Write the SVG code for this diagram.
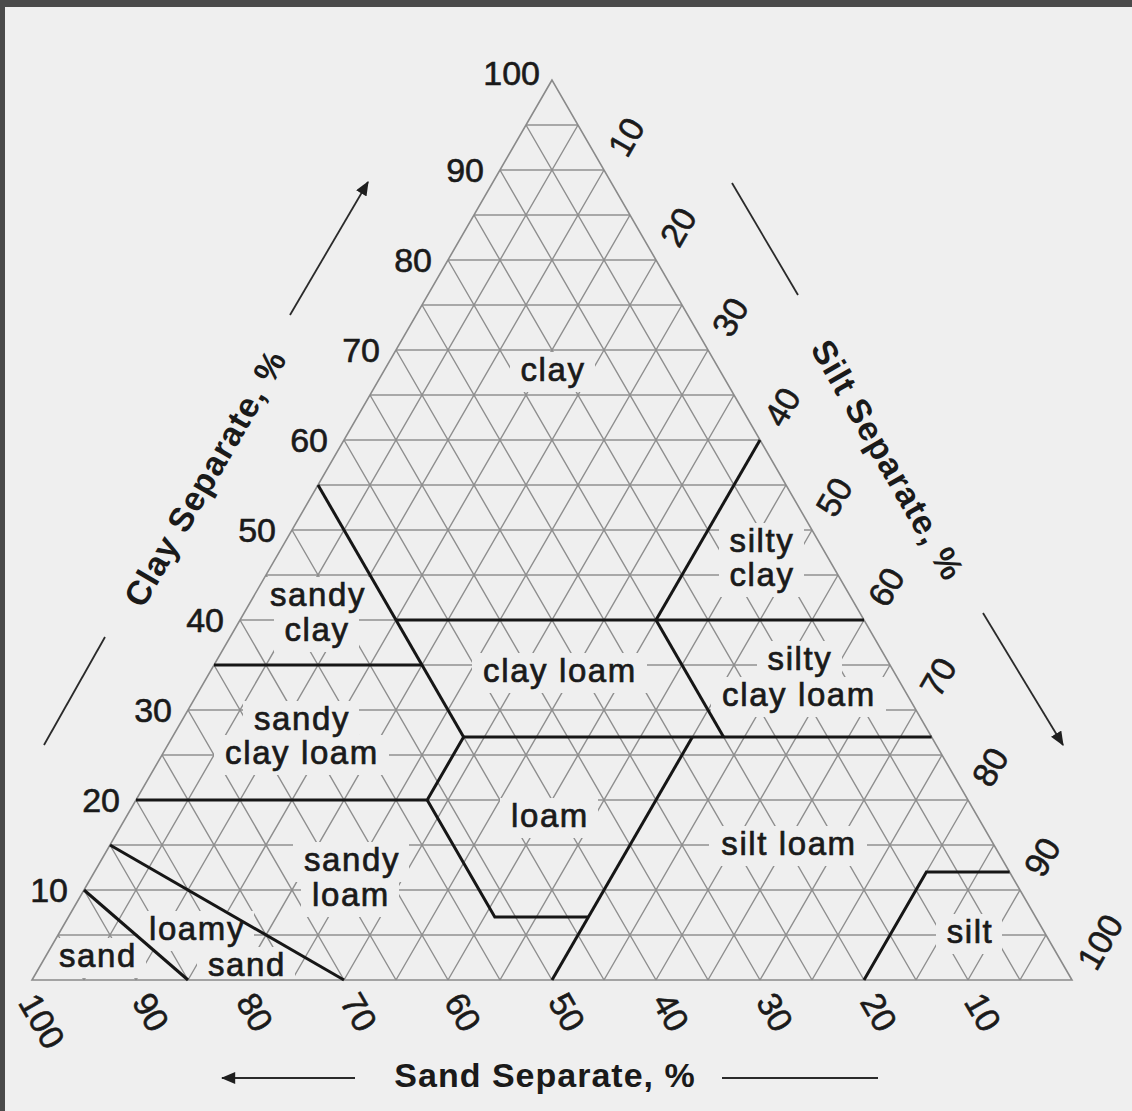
<svg xmlns="http://www.w3.org/2000/svg" width="1132" height="1111" viewBox="0 0 1132 1111">
<style>
.bg{fill:#efefef}
.gh{fill:none;stroke:#a8a8a8;stroke-width:2}
.gd{fill:none;stroke:#8e8e8e;stroke-width:1.4}
.edge{fill:none;stroke:#8a8a8a;stroke-width:1.6;stroke-linejoin:miter}
.bd{fill:none;stroke:#161616;stroke-width:3;stroke-linejoin:miter}
.lb{font-family:"Liberation Sans",Arial,sans-serif;font-size:33px;letter-spacing:1.6px;fill:#1a1a1a;stroke:#1a1a1a;stroke-width:0.7px;text-anchor:middle}
.num{font-family:"Liberation Sans",Arial,sans-serif;font-size:34px;fill:#1a1a1a;stroke:#1a1a1a;stroke-width:0.6px}
.ax{font-family:"Liberation Sans",Arial,sans-serif;font-size:34px;font-weight:bold;letter-spacing:1px;fill:#1a1a1a;text-anchor:middle}
.ar{fill:none;stroke:#2a2a2a;stroke-width:1.8}
</style>
<defs>
<marker id="ah" viewBox="0 0 12 10" refX="11" refY="5" markerWidth="15" markerHeight="12" orient="auto" markerUnits="userSpaceOnUse">
<path d="M0,0L12,5L0,10z" fill="#1e1e1e"/>
</marker>
</defs>
<rect class="bg" x="0" y="0" width="1132" height="1111"/>
<rect x="0" y="0" width="1132" height="7" fill="#4a4a4a"/>
<rect x="0" y="0" width="5" height="1111" fill="#4a4a4a"/>

<g id="grid">
<path class="gh" d="M58,935H1046M84,890H1020M110,845H994M136,800H968M162,755H942M188,710H916M214,665H890M240,620H864M266,575H838M292,530H812M318,485H786M344,440H760M370,395H734M396,350H708M422,305H682M448,260H656M474,215H630M500,170H604M526,125H578"/>
<path class="gd" d="M1020,980L526,125M968,980L500,170M916,980L474,215M864,980L448,260M812,980L422,305M760,980L396,350M708,980L370,395M656,980L344,440M604,980L318,485M552,980L292,530M500,980L266,575M448,980L240,620M396,980L214,665M344,980L188,710M292,980L162,755M240,980L136,800M188,980L110,845M136,980L84,890M84,980L58,935"/>
<path class="gd" d="M84,980L578,125M136,980L604,170M188,980L630,215M240,980L656,260M292,980L682,305M344,980L708,350M396,980L734,395M448,980L760,440M500,980L786,485M552,980L812,530M604,980L838,575M656,980L864,620M708,980L890,665M760,980L916,710M812,980L942,755M864,980L968,800M916,980L994,845M968,980L1020,890M1020,980L1046,935"/>
</g>

<g id="label-gaps" class="bg">
<rect x="510" y="352" width="85" height="40"/>
<rect x="719" y="523" width="85" height="40"/>
<rect x="719" y="557" width="85" height="40"/>
<rect x="259" y="577" width="116" height="40"/>
<rect x="274" y="612" width="85" height="40"/>
<rect x="472" y="653" width="175" height="40"/>
<rect x="757" y="641" width="85" height="40"/>
<rect x="711" y="677" width="175" height="40"/>
<rect x="243" y="701" width="116" height="40"/>
<rect x="214" y="735" width="175" height="40"/>
<rect x="500" y="798" width="98" height="40"/>
<rect x="709" y="826" width="158" height="40"/>
<rect x="293" y="842" width="116" height="40"/>
<rect x="301" y="877" width="98" height="40"/>
<rect x="138" y="911" width="116" height="40"/>
<rect x="48" y="938" width="98" height="40"/>
<rect x="197" y="947" width="98" height="40"/>
<rect x="936" y="914" width="66" height="40"/>
</g>

<g id="triangle">
<path class="edge" d="M552,80L32,980L1072,980Z"/>
</g>

<g id="boundaries">
<path class="bd" d="M84,890L188,980"/>
<path class="bd" d="M110,845L344,980"/>
<path class="bd" d="M136,800L427.2,800L463.6,737"/>
<path class="bd" d="M427.2,800L494.8,917L588.4,917"/>
<path class="bd" d="M552,980L692.4,737"/>
<path class="bd" d="M318,485L463.6,737"/>
<path class="bd" d="M214,665L422,665"/>
<path class="bd" d="M396,620L864,620"/>
<path class="bd" d="M463.6,737L931.6,737"/>
<path class="bd" d="M723.6,737L656,620"/>
<path class="bd" d="M656,620L760,440"/>
<path class="bd" d="M864,980L926.4,872L1009.6,872"/>
</g>

<g id="region-clay"><text class="lb" x="553" y="381">clay</text></g>
<g id="region-silty-clay"><text class="lb" x="762" y="552">silty</text><text class="lb" x="762" y="586">clay</text></g>
<g id="region-sandy-clay"><text class="lb" x="318" y="606">sandy</text><text class="lb" x="317" y="641">clay</text></g>
<g id="region-clay-loam"><text class="lb" x="560" y="682">clay loam</text></g>
<g id="region-silty-clay-loam"><text class="lb" x="800" y="670">silty</text><text class="lb" x="799" y="706">clay loam</text></g>
<g id="region-sandy-clay-loam"><text class="lb" x="302" y="730">sandy</text><text class="lb" x="302" y="764">clay loam</text></g>
<g id="region-loam"><text class="lb" x="550" y="827">loam</text></g>
<g id="region-silt-loam"><text class="lb" x="789" y="855">silt loam</text></g>
<g id="region-sandy-loam"><text class="lb" x="352" y="871">sandy</text><text class="lb" x="351" y="906">loam</text></g>
<g id="region-loamy-sand"><text class="lb" x="197" y="940">loamy</text><text class="lb" x="247" y="976">sand</text></g>
<g id="region-sand"><text class="lb" x="98" y="967">sand</text></g>
<g id="region-silt"><text class="lb" x="970" y="943">silt</text></g>

<g id="clay-scale" class="num" text-anchor="end">
<text x="540" y="85">100</text>
<text x="484" y="182">90</text>
<text x="432" y="272">80</text>
<text x="380" y="362">70</text>
<text x="328" y="452">60</text>
<text x="276" y="542">50</text>
<text x="224" y="632">40</text>
<text x="172" y="722">30</text>
<text x="120" y="812">20</text>
<text x="68" y="902">10</text>
</g>

<g id="silt-scale" class="num" text-anchor="middle">
<text transform="translate(626,137) rotate(-60)" dy="12">10</text>
<text transform="translate(678,227) rotate(-60)" dy="12">20</text>
<text transform="translate(730,317) rotate(-60)" dy="12">30</text>
<text transform="translate(782,407) rotate(-60)" dy="12">40</text>
<text transform="translate(834,497) rotate(-60)" dy="12">50</text>
<text transform="translate(886,587) rotate(-60)" dy="12">60</text>
<text transform="translate(938,677) rotate(-60)" dy="12">70</text>
<text transform="translate(990,767) rotate(-60)" dy="12">80</text>
<text transform="translate(1042,857) rotate(-60)" dy="12">90</text>
<text transform="translate(1100,942) rotate(-60)" dy="12">100</text>
</g>

<g id="sand-scale" class="num" text-anchor="middle">
<text transform="translate(42,1021) rotate(60)" dy="12">100</text>
<text transform="translate(151,1012) rotate(60)" dy="12">90</text>
<text transform="translate(255,1012) rotate(60)" dy="12">80</text>
<text transform="translate(359,1012) rotate(60)" dy="12">70</text>
<text transform="translate(463,1012) rotate(60)" dy="12">60</text>
<text transform="translate(567,1012) rotate(60)" dy="12">50</text>
<text transform="translate(671,1012) rotate(60)" dy="12">40</text>
<text transform="translate(775,1012) rotate(60)" dy="12">30</text>
<text transform="translate(879,1012) rotate(60)" dy="12">20</text>
<text transform="translate(983,1012) rotate(60)" dy="12">10</text>
</g>

<g id="axis-titles">
<text class="ax" transform="translate(205,478) rotate(-60)" dy="12">Clay Separate, %</text>
<text class="ax" transform="translate(888,460) rotate(60)" dy="12">Silt Separate, %</text>
<text class="ax" x="545" y="1087">Sand Separate, %</text>
</g>

<g id="axis-arrows">
<path class="ar" d="M44,745L105,637"/>
<path class="ar" d="M290,315L368,182" marker-end="url(#ah)"/>
<path class="ar" d="M732,183L798,295"/>
<path class="ar" d="M983,613L1063,745" marker-end="url(#ah)"/>
<path class="ar" d="M355,1078L222,1078" marker-end="url(#ah)"/>
<path class="ar" d="M722,1078L878,1078"/>
</g>
</svg>
